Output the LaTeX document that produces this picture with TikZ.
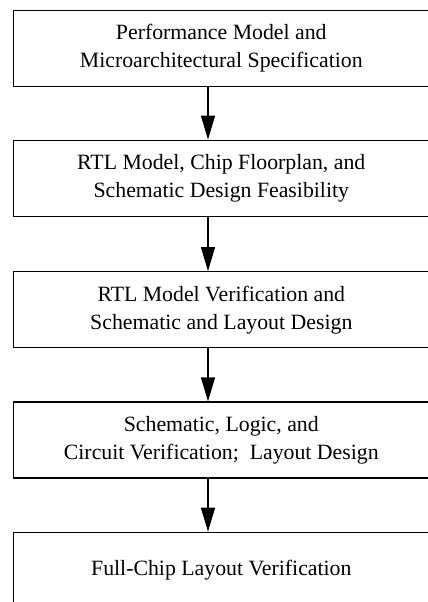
\documentclass[tikz,border=0pt]{standalone}
\usepackage{fontspec}
\setmainfont{Liberation Serif}
\usepackage{tikz}
\usetikzlibrary{arrows.meta}
\tikzset{>={Triangle[length=24pt,width=14pt]}}
\tikzstyle{stage} = [draw = black, line width = 1.2pt, minimum width = 416pt, minimum height = 76pt, align = center, inner sep = 0, font = \fontsize{21.8}{28}\selectfont]
\tikzstyle{flow} = [->, line width = 1.2pt]

\begin{document}
\begin{tikzpicture}[x = 1pt, y = 1pt]
\useasboundingbox (0, 0) rectangle (428, -602);
\clip (0, 0) rectangle (428, -602);
\coordinate (col) at (208, 0);
\node [stage] (perf) at (221.3, -48.5) {Performance Model and\\Microarchitectural Specification};
\node [stage] (rtl) at (221.3, -178.2) {RTL Model, Chip Floorplan, and\\Schematic Design Feasibility};
\node [stage] (verif) at (221.3, -309.7) {RTL Model Verification and\\Schematic and Layout Design};
\node [stage] (circ) at (221.3, -440) {Schematic, Logic, and\\Circuit Verification;~ Layout Design};
\node [stage] (full) at (221.3, -570.3) {Full-Chip Layout Verification};
\draw [flow] (perf.south -| col) to (rtl.north -| col);
\draw [flow] (rtl.south -| col) to (verif.north -| col);
\draw [flow] (verif.south -| col) to (circ.north -| col);
\draw [flow] (circ.south -| col) to (full.north -| col);
\end{tikzpicture}
\end{document}
